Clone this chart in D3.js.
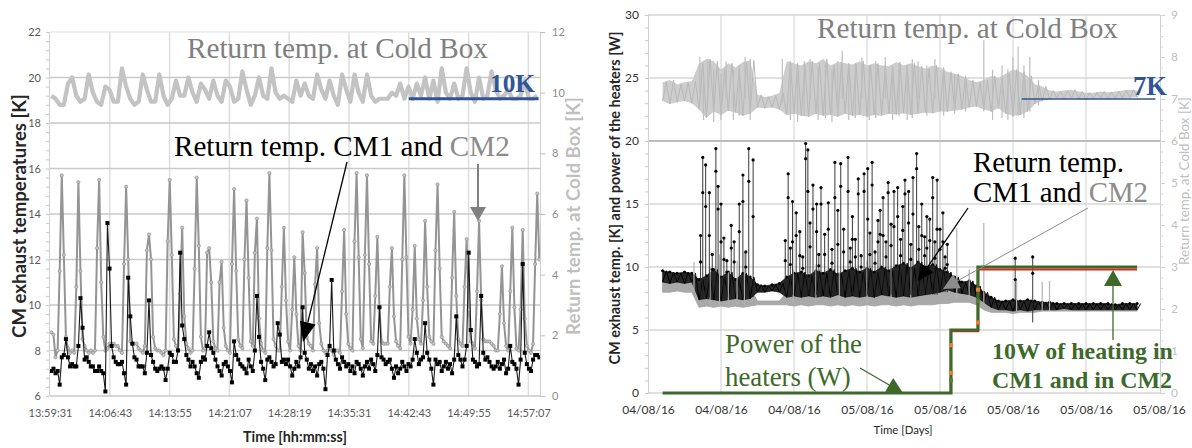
<!DOCTYPE html>
<html>
<head>
<meta charset="utf-8">
<script src="https://cdn.jsdelivr.net/npm/d3@7"></script>
<style>
  body { margin: 0; background: #fff; }
  svg { display: block; }
</style>
</head>
<body>
<svg width="1192" height="448"></svg>
<script>
// ---------- LEFT PANEL DATA (one afternoon, hh:mm:ss) ----------
const leftTickSec = [0, 432, 864, 1296, 1728, 2160, 2592, 3024, 3456];
const leftTickLabels = ["13:59:31", "14:06:43", "14:13:55", "14:21:07", "14:28:19",
  "14:35:31", "14:42:43", "14:49:55", "14:57:07"];
const sampleStart = 10, sampleStep = 15;      // seconds
const coldStart = 10, coldStep = 30;           // seconds

// CM2 exhaust temperature [K] (gray)
const cm2Left = [
  8.8,8.7,7.7,8.0,11.5,15.7,12.2,8.6,8.1,7.9,
  8.0,7.9,10.8,15.4,11.5,8.5,8.2,8.0,7.9,8.0,
  7.9,8.0,12.5,15.5,11.0,8.6,8.0,8.1,8.3,8.3,
  8.3,8.2,8.2,8.0,7.9,11.8,15.2,12.0,8.4,8.3,
  8.3,8.3,8.1,8.0,7.9,8.2,12.4,13.1,12.0,8.6,
  8.1,8.0,8.0,7.9,7.8,8.0,12.8,15.5,12.2,8.5,
  8.2,8.0,10.5,13.4,9.5,8.3,8.1,7.9,8.0,11.6,
  15.6,12.6,8.6,8.0,8.1,12.3,12.5,11.0,8.4,8.1,
  8.0,11.0,11.9,9.0,8.2,8.0,7.9,11.8,15.1,11.5,
  8.5,8.2,8.1,12.0,14.6,11.2,8.4,8.2,12.3,13.8,
  9.4,8.3,8.0,7.9,12.5,15.8,12.4,8.5,8.2,8.0,
  8.0,10.8,13.4,10.2,8.4,8.0,9.8,12.1,9.6,8.2,
  8.0,13.2,11.4,8.6,8.3,8.2,8.0,10.9,12.5,9.2,
  8.3,8.0,7.9,8.0,8.1,8.0,7.8,8.0,8.0,7.9,
  10.6,13.3,9.6,8.3,8.1,8.0,12.8,15.8,12.1,8.5,
  8.1,12.2,15.7,11.8,8.4,8.3,10.4,13.0,9.9,8.4,
  8.3,8.3,8.3,10.8,12.5,9.5,8.4,8.2,8.1,12.0,
  15.7,12.1,8.6,8.3,9.8,12.6,9.4,8.5,8.3,10.2,
  13.7,10.8,8.6,8.4,8.3,12.4,15.3,11.6,8.6,8.4,
  8.3,8.2,8.1,11.2,14.1,10.4,8.5,8.3,8.2,10.8,
  12.9,9.8,8.4,8.3,8.1,10.6,13.7,10.2,8.5,8.4,
  8.4,8.4,8.3,8.2,8.0,8.0,9.6,11.7,9.2,8.2,
  8.0,10.6,13.4,9.9,8.1,8.0,9.8,13.3,9.4,8.2,
  8.0,7.9,8.3,11.8,14.9,12.0
];

// CM1 exhaust temperature [K] (black)
const cm1Left = [
  7.1,7.2,7.0,7.1,6.5,7.7,7.8,8.5,7.7,7.3,
  7.4,7.3,7.3,8.2,10.3,9.0,7.6,7.7,7.5,7.3,
  7.3,7.1,7.1,7.3,7.1,7.0,6.2,13.6,11.6,8.2,
  7.7,7.5,7.4,7.4,7.5,7.0,6.5,11.2,9.5,8.3,
  7.7,7.6,7.3,7.3,7.3,7.0,7.9,10.2,7.8,7.5,
  7.2,7.1,7.2,7.3,7.2,6.7,7.2,7.9,7.8,7.5,
  7.5,8.0,12.3,9.1,8.5,7.8,7.6,7.3,7.5,7.3,
  7.0,6.8,7.5,7.7,7.6,8.2,8.8,8.1,7.9,7.6,
  7.3,7.1,6.9,7.4,7.5,7.3,7.1,6.6,8.4,7.8,
  7.6,7.4,7.3,7.2,7.0,7.6,7.3,7.1,8.0,10.4,
  8.6,7.5,7.2,6.7,7.6,7.7,7.5,7.3,7.4,9.2,
  8.7,7.5,7.6,7.4,7.6,7.3,6.9,7.2,7.5,7.3,
  7.7,9.9,7.9,7.6,7.2,7.4,7.1,7.3,6.9,7.4,
  7.5,7.2,6.3,7.8,8.2,11.1,8.0,7.6,7.4,7.2,
  7.7,7.5,7.3,7.4,7.1,7.3,7.0,7.5,7.4,7.2,
  6.9,7.3,7.5,7.2,7.6,7.4,7.1,7.8,9.9,7.7,
  7.6,7.4,7.5,7.6,7.2,6.8,7.3,7.0,7.2,7.5,
  7.3,7.1,7.4,7.3,7.6,8.5,7.9,7.4,7.6,7.7,
  9.2,7.9,7.6,7.2,6.5,7.6,7.4,7.5,7.1,7.3,
  7.5,7.2,7.4,7.0,7.6,9.5,7.8,7.6,7.3,7.6,
  8.2,12.3,8.9,7.6,7.5,7.3,7.4,10.4,7.9,7.6,
  7.7,7.5,7.3,7.2,7.3,7.5,7.2,7.4,7.6,7.0,
  7.2,8.2,7.5,7.4,7.2,6.5,7.6,11.8,7.9,7.4,
  7.2,7.1,7.6,7.8,7.8,7.7
];

// return temperature at cold box [K] (right axis)
const coldLeft = [
  9.9,9.8,9.6,9.6,10.3,10.5,9.9,9.7,9.8,10.6,10.0,9.7,9.6,10.2,10.1,9.7,9.7,10.8,10.2,9.8,
  9.6,9.7,10.6,10.1,9.7,9.7,10.6,9.9,9.6,9.8,10.4,9.9,9.9,10.5,10.0,9.7,10.3,10.1,9.8,10.4,
  9.9,9.7,10.4,10.2,9.7,9.8,10.7,10.1,9.6,9.9,10.5,9.9,9.8,10.8,10.0,9.8,9.9,9.8,9.7,10.4,
  9.9,10.3,9.9,9.8,10.6,10.1,9.8,10.4,9.9,9.6,10.6,10.1,9.7,10.6,10.0,9.7,10.6,9.9,9.7,9.8,
  9.8,9.8,10.0,9.9,10.3,9.8,10.2,9.8,10.3,9.9,10.5,9.8,10.4,9.7,10.8,10.0,9.8,10.3,9.8,9.9,
  10.8,10.0,9.7,10.5,9.8,9.9,10.7,10.1,9.8,9.9,10.1,9.8,9.8,9.9,10.4,9.8,9.8,9.9
];

// ---------- RIGHT PANEL DATA (two days) ----------
const rightTickLabels = ["04/08/16", "04/08/16", "04/08/16", "05/08/16",
  "05/08/16", "05/08/16", "05/08/16", "05/08/16"];
const bandStart = 0.2, bandStep = 0.1;   // in tick intervals

// cold box return temp envelope [K] (right axis)
const coldHi = [7.40,7.45,7.35,7.40,7.42, 7.85,7.95,7.90,7.70,7.85,7.75,7.88,7.92, 7.10,7.05,7.08,7.15,
  7.90,7.85,7.80,7.90,7.85,7.95,7.80,7.88,7.85,7.82, 7.90,7.80,7.85,7.80,7.78,7.88,7.80,7.85,7.78,7.72,
  7.80,7.75,7.65,7.60,7.55,7.45,7.40,7.45,7.55,7.50, 7.60,7.70,7.65,7.55,7.35,7.30,7.20,7.18,7.20,7.22,
  7.18,7.15,7.15,7.18,7.16,7.18,7.20,7.22,7.20];
const coldLo = [6.95,6.88,6.92,6.95,6.90, 6.75,6.55,6.70,6.62,6.72,6.68,6.60,6.65, 6.80,6.78,6.80,6.75,
  6.62,6.65,6.60,6.58,6.65,6.60,6.62,6.58,6.65,6.60, 6.62,6.58,6.62,6.60,6.65,6.63,6.66,6.62,6.65,6.68,
  6.66,6.70,6.70,6.72,6.75,6.80,6.82,6.75,6.70,6.78, 6.65,6.60,6.62,6.70,6.88,6.95,7.00,7.02,7.00,7.02,
  7.00,6.98,7.00,7.02,7.00,7.01,7.02,7.03,7.04];
// [position, top, bottom]
const coldSpikes = [[0.71,8.0,7.1],[0.76,7.6,6.5],[0.82,7.95,7.0],[0.9,7.7,6.45],[1.0,7.6,6.5],
  [1.07,7.9,7.0],[1.17,7.7,6.5],[1.25,7.8,6.6],[1.33,8.0,7.0],[1.4,7.95,6.5],[1.84,7.95,6.9],
  [1.95,7.8,6.5],[2.05,7.7,6.45],[2.14,7.9,6.6],[2.22,7.95,7.0],[2.33,7.75,6.5],[2.43,7.85,6.55],
  [2.52,7.7,6.45],[2.6,7.9,6.6],[2.66,8.15,7.0],[2.75,7.8,6.5],[2.84,7.85,6.55],[2.93,7.98,7.0],
  [3.03,7.8,6.5],[3.12,7.9,6.55],[3.25,8.0,7.0],[3.35,7.75,6.5],[3.44,7.85,6.6],[3.55,7.8,6.5],
  [3.62,7.95,6.55],[3.7,7.9,7.0],[3.82,7.8,6.6],[3.93,7.95,7.0],[4.05,7.7,6.6],[4.2,7.6,6.65],
  [4.35,7.5,6.7],[4.6,8.4,6.7],[4.72,7.7,6.5],[4.85,7.8,6.55],[4.93,7.7,6.5],[5.0,8.0,6.57],
  [5.07,8.25,6.6],[5.15,7.8,6.55],[5.23,8.0,6.7],[5.35,7.45,6.85]];

// CM1 exhaust temp envelope [K]
const cm1Hi = [9.7,9.6,9.5,9.6,9.5, 9.0,9.3,9.8,9.2,9.6,9.0,9.5,9.2, 8.6,8.5,8.6,8.7,
  9.2,9.5,9.6,9.3,9.7,9.5,9.8,9.4,9.7,9.9, 9.6,9.9,9.6,10.0,9.7,10.1,10.3,9.9,10.4,10.0,
  10.2,9.8,9.6,9.2,8.8,8.9,8.5,8.0,7.6,7.3, 7.3,7.4,7.3,7.4,7.3,7.2,7.2,7.1,7.1,7.1,
  7.1,7.1,7.1,7.1,7.1,7.0,7.1,7.1,7.1];
const cm1Lo = [8.8,8.7,8.8,8.7,8.8, 7.4,7.5,7.4,7.3,7.4,7.5,7.4,7.5, 8.0,8.0,8.1,8.0,
  7.6,7.7,7.6,7.7,7.6,7.7,7.6,7.8,7.6,7.7, 7.6,7.7,7.6,7.8,7.7,7.6,7.7,7.6,7.7,7.8,
  7.9,8.0,8.2,8.0,7.9,7.8,7.6,7.2,6.8,6.6, 6.6,6.5,6.6,6.5,6.6,6.6,6.6,6.6,6.7,6.6,
  6.6,6.6,6.6,6.6,6.6,6.6,6.6,6.6,6.6];
// [position, top, middle dot, bottom]
const cm1Spikes = [[0.72,12.5,10.4,7.6],[0.75,18.7,15.9,7.6],[0.79,18.1,14.8,7.6],[0.84,15.9,12.5,7.6],
  [0.88,11.0,9.8,7.6],[0.93,19.4,17.6,7.6],[0.96,16.4,14.6,7.6],[1.0,15.0,12.0,7.6],[1.04,12.3,10.6,7.6],
  [1.08,10.5,9.6,7.6],[1.14,13.3,11.5,7.6],[1.18,12.0,10.4,7.6],[1.25,15.0,12.8,7.6],[1.3,17.3,15.2,7.6],
  [1.34,11.2,10.0,7.6],[1.38,19.4,16.8,7.6],[1.44,18.5,14.0,7.6],[1.88,12.1,10.5,7.8],[1.92,17.4,15.5,7.8],
  [1.95,11.5,10.2,7.8],[1.98,15.2,12.0,7.8],[2.03,14.3,12.5,7.8],[2.08,12.8,10.9,7.8],[2.12,10.8,9.9,7.8],
  [2.16,19.8,18.6,7.8],[2.19,19.3,16.0,7.8],[2.22,13.5,11.6,7.8],[2.26,16.5,14.6,7.8],[2.31,15.0,12.8,7.8],
  [2.34,11.0,10.1,7.8],[2.37,16.3,15.0,7.8],[2.42,12.6,11.0,7.8],[2.47,15.1,13.0,7.8],[2.52,11.4,10.3,7.8],
  [2.56,18.3,15.5,7.8],[2.6,14.5,11.8,7.8],[2.64,18.2,16.4,7.8],[2.68,13.0,11.2,7.8],[2.74,18.7,16.0,7.8],
  [2.77,11.5,10.4,7.8],[2.8,14.0,12.2,7.8],[2.84,12.2,10.8,7.8],[2.88,17.0,15.8,7.8],[2.92,10.9,10.0,7.8],
  [2.96,17.4,16.0,7.8],[3.01,17.8,13.8,7.8],[3.04,12.7,11.0,7.8],[3.07,18.3,16.5,7.8],[3.11,11.2,10.3,7.8],
  [3.15,13.7,12.0,7.8],[3.18,14.5,12.6,7.8],[3.22,15.5,12.5,7.8],[3.26,12.0,10.8,7.8],[3.29,16.7,15.9,7.8],
  [3.33,13.4,11.7,7.8],[3.37,16.0,13.2,7.8],[3.42,16.3,14.0,7.8],[3.46,12.2,10.9,7.8],[3.49,14.8,12.9,7.8],
  [3.52,16.9,15.8,7.8],[3.57,16.0,13.5,7.8],[3.6,11.8,10.6,7.8],[3.63,17.1,14.2,7.8],[3.68,19.0,17.8,7.8],
  [3.71,13.2,11.4,7.8],[3.75,15.0,12.5,7.8],[3.79,12.4,10.9,7.8],[3.82,14.0,11.5,7.8],[3.86,13.8,12.1,7.8],
  [3.9,17.1,15.5,7.8],[3.93,12.0,10.7,7.8],[3.96,16.9,13.0,7.8],[4.0,13.0,11.4,8.0],[4.04,14.3,12.0,8.0],
  [4.07,10.8,9.9,8.0],[4.1,11.8,10.2,8.0],[5.03,10.7,9.0,6.8],[5.27,10.8,9.5,5.6]];

// CM2 exhaust temp envelope [K]
const cm2Hi = [8.9,8.8,8.9,8.8,8.9, 8.0,8.4,8.6,8.2,8.8,8.0,8.5,8.3, 7.3,7.3,7.3,7.3,
  8.0,8.2,7.9,8.1,8.2,7.9,8.3,8.0,8.2,8.1, 8.2,8.0,8.3,8.1,8.2,8.0,8.3,8.2,8.4,8.2,
  8.3,8.5,8.6,8.8,8.7,8.5,8.2,7.6,7.1,7.0, 7.0,7.1,7.0,7.0,7.0,7.0,6.9,6.9,6.9,6.9,
  6.9,6.9,6.9,6.9,6.9,6.9,6.9,6.9,6.9];
const cm2Lo = [8.0,8.0,8.1,8.0,8.0, 6.8,6.9,6.8,6.9,6.8,6.9,6.8,6.9, 7.0,7.0,7.0,7.0,
  7.0,6.9,7.0,6.9,7.0,7.0,6.9,7.0,6.9,7.0, 6.9,7.0,6.9,7.0,7.0,6.9,7.0,6.9,7.0,7.0,
  7.0,7.1,7.1,7.2,7.2,7.2,7.0,6.6,6.4,6.4, 6.4,6.3,6.4,6.4,6.4,6.5,6.5,6.5,6.5,6.5,
  6.5,6.5,6.5,6.5,6.5,6.5,6.5,6.5,6.5];
const cm2Spikes = [[0.63,10.4,8.0],[0.85,10.0,7.0],[0.98,11.0,7.0],[1.1,9.6,7.0],[1.22,10.5,7.0],
  [1.32,11.2,7.0],[1.99,9.8,7.2],[2.3,10.2,7.2],[2.62,9.6,7.2],[3.0,10.5,7.2],[3.33,9.9,7.2],
  [3.6,10.8,7.2],[4.23,13.1,7.5],[4.4,9.8,7.5],[4.6,13.5,7.0],[5.05,9.0,6.5],[5.4,8.8,6.5],[5.5,8.9,6.5]];

// power of the heaters [W]
const heaterU = [0.2, 4.15, 4.15, 4.52, 4.52, 6.7];
const heaterW = [0, 0, 5, 5, 10, 10];
const heaterRedU = [4.15, 4.15, 4.52, 4.52, 6.7];
const heaterRedW = [0, 4.9, 4.9, 9.8, 9.8];
const heaterMarks = [[4.15, 1.0, "#548235"], [4.15, 1.6, "#ed7d31"], [4.15, 3.8, "#ed7d31"],
  [4.52, 5.6, "#ed7d31"], [4.52, 7.3, "#548235"], [4.52, 8.2, "#ed7d31"]];

// ---------- SETUP ----------
const svg = d3.select("svg");
const sans = "Lato, 'Open Sans', sans-serif";
const serif = "'Liberation Serif', 'Times New Roman', Times, serif";
const green = "#3d6a2a", blue = "#2f5597";

function fit(sel, w) {
  const cur = sel.node().getComputedTextLength();
  sel.attr("font-size", parseFloat(sel.attr("font-size")) * w / cur);
  return sel;
}

function arrow(g, x1, y1, x2, y2, color, sw, hl, hw) {
  const a = Math.atan2(y2 - y1, x2 - x1);
  const bx = x2 - hl * Math.cos(a), by = y2 - hl * Math.sin(a);
  g.append("line").attr("x1", x1).attr("y1", y1).attr("x2", bx).attr("y2", by)
    .attr("stroke", color).attr("stroke-width", sw);
  const px = -Math.sin(a) * hw, py = Math.cos(a) * hw;
  g.append("path").attr("d", `M${x2},${y2}L${bx + px},${by + py}L${bx - px},${by - py}Z`)
    .attr("fill", color);
}

function styleAxis(g, color, size) {
  g.select(".domain").remove();
  g.selectAll("text").attr("fill", color).attr("font-size", size).attr("font-family", sans);
}

// =============== LEFT PANEL ===============
const xL = d3.scaleLinear().domain([0, 3540]).range([50, 540]);
const yL = d3.scaleLinear().domain([6, 22]).range([396, 32]);
const yLR = d3.scaleLinear().domain([0, 12]).range([396, 32]);

const gl = svg.append("g");
svg.append("clipPath").attr("id", "clipL").append("rect")
  .attr("x", 50).attr("y", 30).attr("width", 490).attr("height", 368);

// grid
gl.selectAll(".vg").data(leftTickSec.slice(1)).join("line")
  .attr("x1", d => xL(d)).attr("x2", d => xL(d)).attr("y1", 32).attr("y2", 396)
  .attr("stroke", "#dedede").attr("stroke-width", 1.5);
gl.selectAll(".hg").data(d3.range(6, 23, 2)).join("line")
  .attr("x1", 50).attr("x2", 540).attr("y1", d => yL(d)).attr("y2", d => yL(d))
  .attr("stroke", d => d === 22 ? "#e2e2e2" : "#c9c9c9").attr("stroke-width", d => d === 22 ? 1 : 1.6);
gl.append("line").attr("x1", 49.5).attr("x2", 49.5).attr("y1", 32).attr("y2", 396).attr("stroke", "#d0d0d0");
gl.append("line").attr("x1", 540.5).attr("x2", 540.5).attr("y1", 32).attr("y2", 396).attr("stroke", "#d0d0d0");

// axes
const axL = gl.append("g").attr("transform", "translate(49,0)")
  .call(d3.axisLeft(yL).tickValues(d3.range(6, 23, 2)).tickSize(0).tickPadding(8));
styleAxis(axL, "#595959", 11);
const axLm = gl.append("g").attr("transform", "translate(49,0)")
  .call(d3.axisLeft(yL).tickValues(d3.range(30, 111, 2).map(d => d / 5)).tickSize(3).tickFormat(""));
axLm.select(".domain").remove();
axLm.selectAll("line").attr("stroke", "#c8c8c8");
const axLR = gl.append("g").attr("transform", "translate(540,0)")
  .call(d3.axisRight(yLR).tickValues(d3.range(0, 13, 2)).tickSize(5).tickPadding(7));
styleAxis(axLR, "#8c8c8c", 11);
axLR.selectAll("line").attr("stroke", "#bfbfbf");
const axLB = gl.append("g").attr("transform", "translate(0,396)")
  .call(d3.axisBottom(xL).tickValues(leftTickSec).tickFormat((d, i) => leftTickLabels[i])
    .tickSize(0).tickPadding(13));
styleAxis(axLB, "#595959", 11);

// series
const plotL = gl.append("g").attr("clip-path", "url(#clipL)");
plotL.append("path").datum(coldLeft)
  .attr("d", d3.line().x((d, i) => xL(coldStart + i * coldStep)).y(d => yLR(d)))
  .attr("fill", "none").attr("stroke", "#c3c3c3").attr("stroke-width", 4.2)
  .attr("stroke-linejoin", "round");

const tL = (d, i) => xL(sampleStart + i * sampleStep);
plotL.append("path").datum(cm2Left)
  .attr("d", d3.line().x(tL).y(d => yL(d)))
  .attr("fill", "none").attr("stroke", "#949494").attr("stroke-width", 2);
plotL.selectAll(".m2").data(cm2Left).join("circle")
  .attr("cx", tL).attr("cy", d => yL(d)).attr("r", 1.6)
  .attr("fill", "#c4c4c4").attr("stroke", "#949494").attr("stroke-width", 0.7);
plotL.append("path").datum(cm1Left)
  .attr("d", d3.line().x(tL).y(d => yL(d)))
  .attr("fill", "none").attr("stroke", "#1a1a1a").attr("stroke-width", 1.1);
plotL.selectAll(".m1").data(cm1Left).join("rect")
  .attr("x", (d, i) => tL(d, i) - 2).attr("y", d => yL(d) - 2)
  .attr("width", 4).attr("height", 4).attr("fill", "#000");

// axis titles
fit(gl.append("text").attr("transform", "translate(26,216) rotate(-90)")
  .attr("text-anchor", "middle").attr("font-family", sans).attr("font-weight", "bold")
  .attr("font-size", 16).attr("fill", "#262626").text("CM exhaust temperatures [K]"), 244);
fit(gl.append("text").attr("transform", "translate(580,216) rotate(-90)")
  .attr("text-anchor", "middle").attr("font-family", sans).attr("font-weight", "bold")
  .attr("font-size", 16).attr("fill", "#bfbfbf").text("Return temp. at Cold Box [K]"), 238);
fit(gl.append("text").attr("x", 295).attr("y", 442)
  .attr("text-anchor", "middle").attr("font-family", sans).attr("font-weight", "bold")
  .attr("font-size", 15).attr("fill", "#262626").text("Time [hh:mm:ss]"), 104);

// annotations
fit(gl.append("text").attr("x", 187).attr("y", 58).attr("font-family", serif)
  .attr("font-size", 28).attr("fill", "#7f7f7f").text("Return temp. at Cold Box"), 301);
gl.append("line").attr("x1", xL(2592)).attr("x2", xL(3530))
  .attr("y1", yLR(9.8)).attr("y2", yLR(9.8)).attr("stroke", blue).attr("stroke-width", 3);
fit(gl.append("text").attr("x", 490).attr("y", 92).attr("font-family", serif)
  .attr("font-weight", "bold").attr("font-size", 26).attr("fill", blue).text("10K"), 45);
const tcm = gl.append("text").attr("x", 174).attr("y", 156).attr("font-family", serif)
  .attr("font-size", 28).attr("fill", "#000");
tcm.append("tspan").text("Return temp. CM1 and ");
tcm.append("tspan").attr("fill", "#8c8c8c").text("CM2");
fit(tcm, 336);
arrow(gl, 347, 162, 303, 342, "#000", 1.3, 20, 8);
arrow(gl, 478, 164, 478, 221, "#808080", 2, 14, 8);

// =============== RIGHT PANEL ===============
const xR = d3.scaleLinear().domain([0, 7]).range([648, 1159]);
const yR = d3.scaleLinear().domain([0, 30]).range([393, 15]);
const yRR = d3.scaleLinear().domain([0, 9]).range([393, 15]);
const bx = (d, i) => xR(bandStart + i * bandStep);

const gr = svg.append("g");
svg.append("clipPath").attr("id", "clipR").append("rect")
  .attr("x", 648).attr("y", 12).attr("width", 512).attr("height", 384);

gr.selectAll(".vg").data(d3.range(1, 7)).join("line")
  .attr("x1", d => xR(d)).attr("x2", d => xR(d)).attr("y1", 15).attr("y2", 393)
  .attr("stroke", "#e3e3e3").attr("stroke-width", 1.6);
gr.selectAll(".hg").data(d3.range(0, 31, 5)).join("line")
  .attr("x1", 648).attr("x2", 1160).attr("y1", d => yR(d)).attr("y2", d => yR(d))
  .attr("stroke", d => d === 20 ? "#bdbdbd" : "#d6d6d6").attr("stroke-width", d => d === 20 ? 2 : 1.4);
gr.append("line").attr("x1", 648.5).attr("x2", 648.5).attr("y1", 15).attr("y2", 393).attr("stroke", "#d0d0d0");
gr.append("line").attr("x1", 1160.5).attr("x2", 1160.5).attr("y1", 15).attr("y2", 393).attr("stroke", "#d0d0d0");

const axR = gr.append("g").attr("transform", "translate(648,0)")
  .call(d3.axisLeft(yR).tickValues(d3.range(0, 31, 5)).tickSize(0).tickPadding(9));
styleAxis(axR, "#333", 12);
const axRm = gr.append("g").attr("transform", "translate(648,0)")
  .call(d3.axisLeft(yR).tickValues(d3.range(0, 31, 1)).tickSize(3).tickFormat(""));
axRm.select(".domain").remove();
axRm.selectAll("line").attr("stroke", "#c8c8c8");
const axRR = gr.append("g").attr("transform", "translate(1160,0)")
  .call(d3.axisRight(yRR).tickValues(d3.range(0, 10)).tickSize(5).tickPadding(6));
styleAxis(axRR, "#bfbfbf", 12);
axRR.selectAll("line").attr("stroke", "#cfcfcf");
const axRRm = gr.append("g").attr("transform", "translate(1160,0)")
  .call(d3.axisRight(yRR).tickValues(d3.range(0, 37).map(d => d / 4)).tickSize(3).tickFormat(""));
axRRm.select(".domain").remove();
axRRm.selectAll("line").attr("stroke", "#d6d6d6");
const axRB = gr.append("g").attr("transform", "translate(0,393)")
  .call(d3.axisBottom(xR).tickValues(d3.range(0, 8)).tickFormat((d, i) => rightTickLabels[i])
    .tickSize(0).tickPadding(12));
styleAxis(axRB, "#333", 12);

const plotR = gr.append("g").attr("clip-path", "url(#clipR)");
// cold box band: envelope + zigzag trace + spikes
plotR.append("path").datum(d3.zip(coldLo, coldHi))
  .attr("d", d3.area().x(bx).y0(d => yRR(d[0])).y1(d => yRR(d[1])))
  .attr("fill", "#cdcdcd");
const zig = (lo, hi, y) => lo.flatMap((l, i) => [[bandStart + i * bandStep, l],
  [bandStart + (i + 0.5) * bandStep, hi[i]]]);
plotR.append("path").datum(zig(coldLo, coldHi))
  .attr("d", d3.line().x(d => xR(d[0])).y(d => yRR(d[1])))
  .attr("fill", "none").attr("stroke", "#b9b9b9").attr("stroke-width", 1);
plotR.selectAll(".cs").data(coldSpikes).join("line")
  .attr("x1", d => xR(d[0])).attr("x2", d => xR(d[0]))
  .attr("y1", d => yRR(d[2])).attr("y2", d => yRR(d[1]))
  .attr("stroke", "#bdbdbd").attr("stroke-width", 1.2);

// CM2 band (gray) then CM1 band (black)
plotR.append("path").datum(d3.zip(cm2Lo, cm2Hi))
  .attr("d", d3.area().x(bx).y0(d => yR(d[0])).y1(d => yR(d[1])))
  .attr("fill", "#a9a9a9").attr("stroke", "#a0a0a0").attr("stroke-width", 0.8);
plotR.append("path").datum(d3.zip(cm1Lo, cm1Hi))
  .attr("d", d3.area().x(bx).y0(d => yR(d[0])).y1(d => yR(d[1])))
  .attr("fill", "#262626").attr("stroke", "#000").attr("stroke-width", 0.6);
plotR.append("path").datum(zig(cm1Lo, cm1Hi))
  .attr("d", d3.line().x(d => xR(d[0])).y(d => yR(d[1])))
  .attr("fill", "none").attr("stroke", "#000").attr("stroke-width", 1);
plotR.selectAll(".c1d").data(cm1Hi).join("circle")
  .attr("cx", bx).attr("cy", d => yR(d)).attr("r", 1.5).attr("fill", "#000");
plotR.selectAll(".c2s").data(cm2Spikes).join("line")
  .attr("x1", d => xR(d[0])).attr("x2", d => xR(d[0]))
  .attr("y1", d => yR(d[2])).attr("y2", d => yR(d[1]))
  .attr("stroke", "#b3b3b3").attr("stroke-width", 1.2);
plotR.selectAll(".c1s").data(cm1Spikes).join("line")
  .attr("x1", d => xR(d[0])).attr("x2", d => xR(d[0]))
  .attr("y1", d => yR(d[3])).attr("y2", d => yR(d[1]))
  .attr("stroke", "#222").attr("stroke-width", 0.9);
plotR.selectAll(".c1t").data(cm1Spikes).join("circle")
  .attr("cx", d => xR(d[0])).attr("cy", d => yR(d[1])).attr("r", 1.6).attr("fill", "#000");
plotR.selectAll(".c1m").data(cm1Spikes).join("circle")
  .attr("cx", d => xR(d[0])).attr("cy", d => yR(d[2])).attr("r", 1.6).attr("fill", "#000");

// heaters
plotR.append("path").datum(d3.zip(heaterRedU, heaterRedW))
  .attr("d", d3.line().x(d => xR(d[0])).y(d => yR(d[1])))
  .attr("fill", "none").attr("stroke", "#e8231b").attr("stroke-width", 2.2);
plotR.append("path").datum(d3.zip(heaterU, heaterW))
  .attr("d", d3.line().x(d => xR(d[0])).y(d => yR(d[1])))
  .attr("fill", "none").attr("stroke", green).attr("stroke-width", 3.2);
plotR.selectAll(".hm").data(heaterMarks).join("rect")
  .attr("x", d => xR(d[0]) - 2).attr("y", d => yR(d[1]) - 2)
  .attr("width", 4).attr("height", 4).attr("fill", d => d[2]);

// axis titles
fit(gr.append("text").attr("transform", "translate(620,198) rotate(-90)")
  .attr("text-anchor", "middle").attr("font-family", sans).attr("font-weight", "bold")
  .attr("font-size", 12).attr("fill", "#262626")
  .text("CM exhaust temp. [K] and power of the heaters [W]"), 333);
fit(gr.append("text").attr("transform", "translate(1189,181) rotate(-90)")
  .attr("text-anchor", "middle").attr("font-family", sans)
  .attr("font-size", 12).attr("fill", "#bfbfbf").text("Return temp. at Cold Box [K]"), 168);
fit(gr.append("text").attr("x", 903).attr("y", 434).attr("text-anchor", "middle")
  .attr("font-family", sans).attr("font-size", 12).attr("fill", "#262626").text("Time [Days]"), 59);

// annotations
fit(gr.append("text").attr("x", 817).attr("y", 38).attr("font-family", serif)
  .attr("font-size", 28).attr("fill", "#7f7f7f").text("Return temp. at Cold Box"), 301);
gr.append("line").attr("x1", xR(5.12)).attr("x2", xR(6.95))
  .attr("y1", yRR(7.0)).attr("y2", yRR(7.0)).attr("stroke", blue).attr("stroke-width", 1.6);
fit(gr.append("text").attr("x", 1133).attr("y", 95).attr("font-family", serif)
  .attr("font-weight", "bold").attr("font-size", 26).attr("fill", blue).text("7K"), 34);

const rt = gr.append("text").attr("x", 973).attr("y", 172).attr("font-family", serif)
  .attr("font-size", 28).attr("fill", "#000").text("Return temp.");
fit(rt, 151);
gr.append("text").attr("x", 973).attr("y", 202).attr("font-family", serif)
  .attr("font-size", rt.attr("font-size")).attr("fill", "#000")
  .call(t => { t.append("tspan").text("CM1 and "); t.append("tspan").attr("fill", "#8c8c8c").text("CM2"); });
arrow(gr, 968, 208, 918, 281, "#000", 1.3, 16, 8);
arrow(gr, 1088, 208, 943, 289, "#8c8c8c", 1, 16, 8);

const pw = gr.append("text").attr("x", 725).attr("y", 353).attr("font-family", serif)
  .attr("font-size", 26).attr("fill", green).text("Power of the");
fit(pw, 137);
gr.append("text").attr("x", 725).attr("y", 386).attr("font-family", serif)
  .attr("font-size", pw.attr("font-size")).attr("fill", green).text("heaters (W)");
arrow(gr, 860, 368, 903, 393, green, 1.3, 16, 8);

const hw = gr.append("text").attr("x", 992).attr("y", 359).attr("font-family", serif)
  .attr("font-weight", "bold").attr("font-size", 24).attr("fill", green).text("10W of heating in");
fit(hw, 181);
gr.append("text").attr("x", 992).attr("y", 388).attr("font-family", serif)
  .attr("font-weight", "bold").attr("font-size", hw.attr("font-size")).attr("fill", green)
  .text("CM1 and in CM2");
arrow(gr, 1113, 340, 1113, 270, green, 1.3, 16, 9);
</script>
</body>
</html>
